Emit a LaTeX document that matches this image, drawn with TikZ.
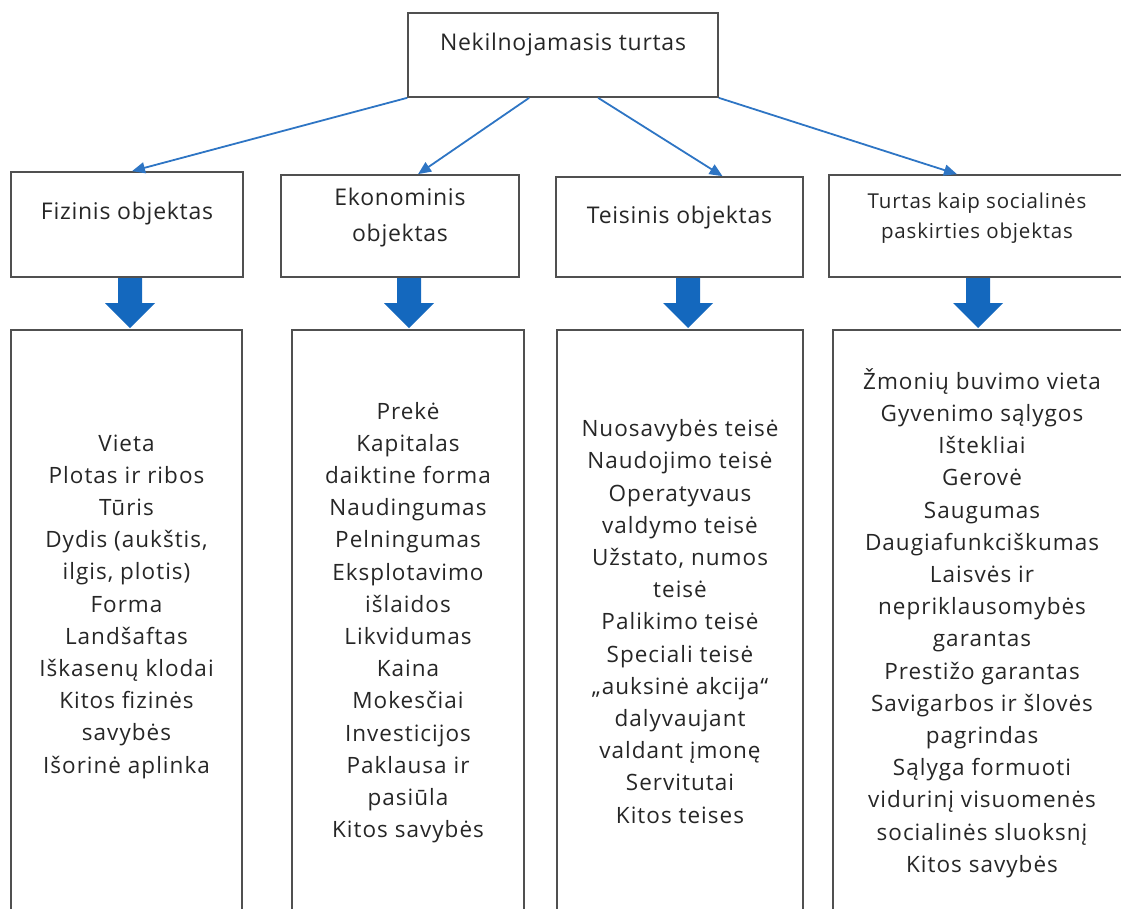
\documentclass[tikz,border=0pt]{standalone}
\usepackage{fontspec}
\setmainfont{Open Sans}
\usepackage{tikz}
\usetikzlibrary{arrows.meta}

\definecolor{linkblue}{RGB}{46,117,196}
\definecolor{fatblue}{RGB}{20,104,190}
\definecolor{boxgray}{RGB}{80,80,80}
\definecolor{txtgray}{RGB}{38,38,38}

\tikzset{
  box/.style={draw=boxgray, line width=1.7pt, rectangle, inner sep=0pt},
  head/.style={text=txtgray, align=center, font=\fontsize{23}{36}\selectfont\addfontfeatures{LetterSpace=3.2}},
  smallhead/.style={text=txtgray, align=center, font=\fontsize{20.5}{30}\selectfont\addfontfeatures{LetterSpace=4}},
  list/.style={text=txtgray, align=center, font=\fontsize{22.5}{32.2}\selectfont\addfontfeatures{LetterSpace=4.5}},
  link/.style={draw=linkblue, line width=1.8pt, -{Triangle[length=13pt,width=11pt]}},
  fat/.style={fill=fatblue}
}

\begin{document}
\begin{tikzpicture}[x=1pt, y=-1pt]
\useasboundingbox (0,0) rectangle (1121,908);
\clip (0,0) rectangle (1121,908);

% top
\node[box, minimum width=310pt, minimum height=84pt] (top) at (563,55) {};
\node[head] (top-t) at ([yshift=10pt]top.center) {Nekilnojamasis turtas};

% second row
\node[box, minimum width=232pt, minimum height=105pt] (fiz) at (127,224.5) {};
\node[head] (fiz-t) at ([yshift=10.5pt]fiz.center) {Fizinis objektas};
\node[box, minimum width=238pt, minimum height=102pt] (eko) at (400,226) {};
\node[head] (eko-t) at ([yshift=8pt]eko.center) {Ekonominis\\objektas};
\node[box, minimum width=247pt, minimum height=100pt] (tei) at (679.5,227) {};
\node[head] (tei-t) at ([yshift=9pt]tei.center) {Teisinis objektas};
\node[box, minimum width=296pt, minimum height=102pt] (tur) at (977,226) {};
\node[smallhead] (tur-t) at ([yshift=8pt]tur.center) {Turtas kaip socialinės\\paskirties objektas};

% arrows from top
\draw[link] (top.south west) -- ([xshift=5pt]fiz.north);
\draw[link] ([xshift=122pt]top.south west) -- ([xshift=18pt]eko.north);
\draw[link] ([xshift=191pt]top.south west) -- ([xshift=43pt]tei.north);
\draw[link] (top.south east) -- ([xshift=-20pt]tur.north);

% fat arrows
\foreach \x in {130,409,688,978}
  \fill[fat] (\x-12,278) -- (\x+12,278) -- (\x+12,303) -- (\x+25,303)
    -- (\x,328) -- (\x-25,303) -- (\x-12,303) -- cycle;

% lists
\node[box, minimum width=231pt, minimum height=620pt] (fiz-l) at (126.5,640) {};
\node[box, minimum width=232pt, minimum height=620pt] (eko-l) at (408,640) {};
\node[box, minimum width=246pt, minimum height=620pt] (tei-l) at (680,640) {};
\node[box, minimum width=292pt, minimum height=620pt] (tur-l) at (979,640) {};

\node[list] (fiz-lt) at (126.5,606.5) {Vieta\\Plotas ir ribos\\Tūris\\Dydis (aukštis,\\ilgis, plotis)\\Forma\\Landšaftas\\Iškasenų klodai\\Kitos fizinės\\savybės\\Išorinė aplinka};
\node[list] (eko-lt) at (408,622.5) {Prekė\\Kapitalas\\daiktine forma\\Naudingumas\\Pelningumas\\Eksplotavimo\\išlaidos\\Likvidumas\\Kaina\\Mokesčiai\\Investicijos\\Paklausa ir\\pasiūla\\Kitos savybės};
\node[list] (tei-lt) at (680,621.5) {Nuosavybės teisė\\Naudojimo teisė\\Operatyvaus\\valdymo teisė\\Užstato, numos\\teisė\\Palikimo teisė\\Speciali teisė\\„auksinė akcija“\\dalyvaujant\\valdant įmonę\\Servitutai\\Kitos teises};
\node[list] (tur-lt) at (982,623) {Žmonių buvimo vieta\\Gyvenimo sąlygos\\Ištekliai\\Gerovė\\Saugumas\\Daugiafunkciškumas\\Laisvės ir\\nepriklausomybės\\garantas\\Prestižo garantas\\Savigarbos ir šlovės\\pagrindas\\Sąlyga formuoti\\vidurinį visuomenės\\socialinės sluoksnį\\Kitos savybės};
\end{tikzpicture}
\end{document}
